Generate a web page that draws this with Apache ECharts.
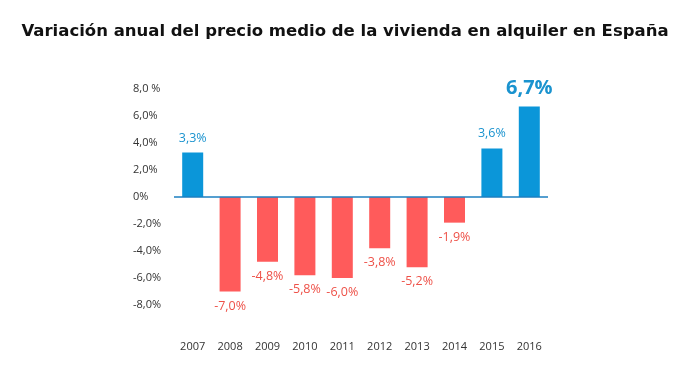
<!DOCTYPE html>
<html><head><meta charset="utf-8">
<script src="https://cdn.jsdelivr.net/npm/echarts@6/dist/echarts.min.js"></script>
<style>html,body{margin:0;padding:0;background:#fff}#c{width:690px;height:390px}</style>
</head><body><div id="c"></div>
<script>
var years = ['2007','2008','2009','2010','2011','2012','2013','2014','2015','2016'];
var values = [3.3, -7.0, -4.8, -5.8, -6.0, -3.8, -5.2, -1.9, 3.6, 6.7];
var yTickLabels = {'8':'8,0 %','6':'6,0%','4':'4,0%','2':'2,0%','0':'0%','-2':'-2,0%','-4':'-4,0%','-6':'-6,0%','-8':'-8,0%','-10':''};
var title = 'Variación anual del precio medio de la vivienda en alquiler en España';

var BLUE = '#0b96d9', RED = '#ff5b5b', BLUE_T = '#1a93cf', RED_T = '#ee5148';
function fmt(v){ return v.toFixed(1).replace('.', ',') + '%'; }

var data = values.map(function(v, i){
  var pos = v >= 0;
  var big = i === values.length - 1;
  return {
    value: v,
    itemStyle: { color: pos ? BLUE : RED },
    label: {
      show: true,
      position: pos ? 'top' : 'bottom',
      distance: 8,
      color: pos ? BLUE_T : RED_T,
      fontSize: big ? 20 : 12.5,
      fontWeight: big ? 'bold' : 'normal',
      fontFamily: 'Open Sans',
      formatter: function(p){ return fmt(p.value); }
    }
  };
});

var chart = echarts.init(document.getElementById('c'), null, {renderer:'canvas'});
chart.setOption({
  animation: false,
  title: {
    text: title, left: 'center', top: 18,
    textStyle: { fontFamily: 'DejaVu Sans', fontSize: 16.5, fontWeight: 'bold', color: '#111' }
  },
  grid: { left: 174, right: 142, top: 89, bottom: 58 },
  xAxis: {
    type: 'category', data: years,
    axisLine: { show: false }, axisTick: { show: false },
    axisLabel: { color: '#333', fontSize: 11, fontFamily: 'Open Sans', margin: 9 }
  },
  yAxis: {
    type: 'value', min: -10, max: 8, interval: 2,
    axisLine: { show: false }, axisTick: { show: false }, splitLine: { show: false },
    axisLabel: {
      color: '#333', fontSize: 11, fontFamily: 'Open Sans', align: 'left', margin: 41,
      formatter: function(v){ return yTickLabels[String(v)]; }
    }
  },
  series: [{
    type: 'bar', data: data, barWidth: 21,
    markLine: {
      silent: true, symbol: ['none','none'], label: { show: false },
      lineStyle: { color: '#1c7fc0', width: 1.5, type: 'solid' },
      data: [{ yAxis: 0 }]
    }
  }]
});
</script></body></html>
